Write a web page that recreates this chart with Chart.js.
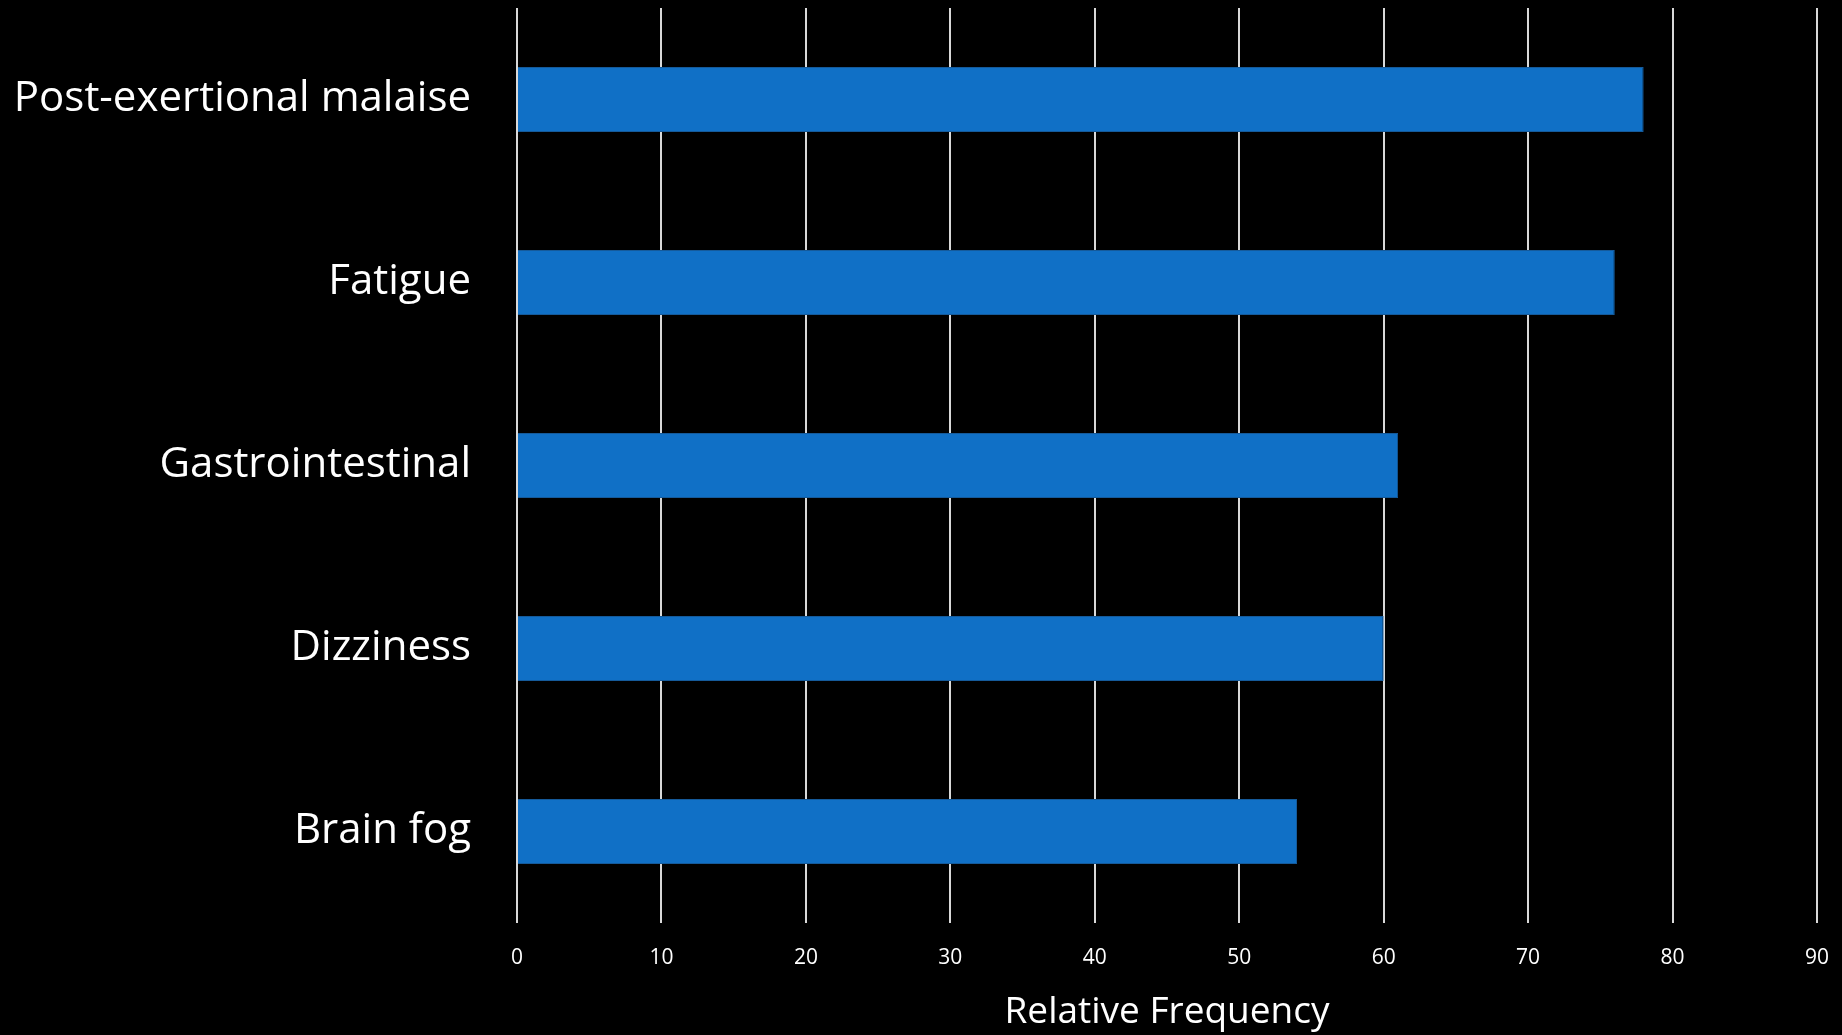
<!DOCTYPE html>
<html>
<head>
<meta charset="utf-8">
<title>Relative Frequency</title>
<script src="https://cdn.jsdelivr.net/npm/chart.js@4.4.1/dist/chart.umd.min.js"></script>
<style>
    html, body {
        margin: 0;
        padding: 0;
        background: #000;
    }
    #wrap {
        width: 1842px;
        height: 1035px;
    }
</style>
</head>
<body>
<div id="wrap"><canvas id="symptomChart"></canvas></div>
<script>
// Symptoms and their relative frequency
const symptoms = ['Post-exertional malaise', 'Fatigue', 'Gastrointestinal', 'Dizziness', 'Brain fog'];
const frequency = [78, 76, 61, 60, 54];
const xTicks = [0, 10, 20, 30, 40, 50, 60, 70, 80, 90];

const labelFont = '"Open Sans", "DejaVu Sans", sans-serif';

function initializeSymptomChart() {
    const ctx = document.getElementById('symptomChart');

    new Chart(ctx, {
        type: 'bar',
        data: {
            labels: symptoms,
            datasets: [{
                label: 'Relative Frequency',
                data: frequency,
                backgroundColor: '#1070c6',
                borderColor: '#155a9a',
                borderWidth: 1,
                borderSkipped: 'start',
                categoryPercentage: 1,
                barPercentage: 0.355
            }]
        },
        options: {
            indexAxis: 'y',
            responsive: true,
            maintainAspectRatio: false,
            animation: false,
            layout: {
                padding: { top: 8, right: 25, bottom: 0, left: 0 }
            },
            plugins: {
                legend: { display: false },
                tooltip: { enabled: false }
            },
            scales: {
                x: {
                    min: 0,
                    max: 90,
                    afterBuildTicks: scale => {
                        scale.ticks = xTicks.map(v => ({ value: v }));
                    },
                    afterFit: scale => {
                        scale.height = 112;
                        scale.paddingRight = 0;
                        scale.paddingLeft = 0;
                    },
                    grid: {
                        color: '#d9d9d9',
                        lineWidth: 2,
                        drawTicks: false
                    },
                    border: { display: false },
                    ticks: {
                        color: '#ffffff',
                        padding: 22,
                        font: { family: labelFont, size: 21 }
                    },
                    title: {
                        display: true,
                        text: 'Relative Frequency',
                        color: '#ffffff',
                        padding: { top: 10, bottom: 0 },
                        font: { family: labelFont, size: 37 }
                    }
                },
                y: {
                    afterFit: scale => {
                        // keep the label column fixed and let bars use the full height
                        scale.width = 517;
                        scale.paddingTop = 0;
                        scale.paddingBottom = 0;
                    },
                    grid: { display: false },
                    border: { display: false },
                    ticks: {
                        color: '#ffffff',
                        padding: 38,
                        font: { family: labelFont, size: 42 }
                    }
                }
            }
        }
    });
}

document.addEventListener('DOMContentLoaded', initializeSymptomChart);
</script>
</body>
</html>
